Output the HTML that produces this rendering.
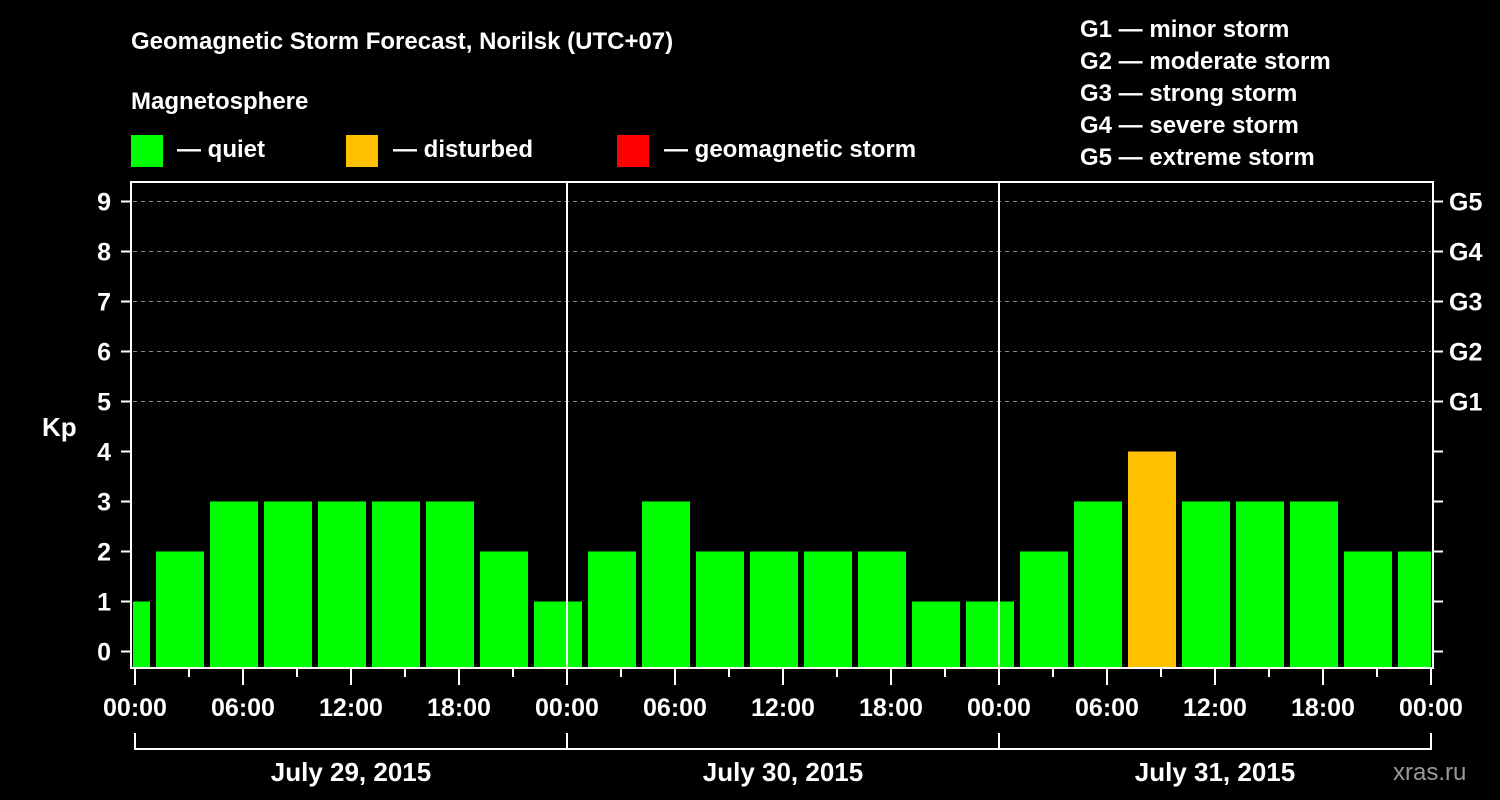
<!DOCTYPE html>
<html><head><meta charset="utf-8"><style>
html,body{margin:0;padding:0;background:#000;}
svg{display:block;font-family:"Liberation Sans",Arial,sans-serif;font-weight:bold;}
</style></head><body>
<svg id="c" width="1500" height="800" viewBox="0 0 1500 800">
<rect width="1500" height="800" fill="#000"/>
<text x="131" y="49" fill="#fff" font-size="24">Geomagnetic Storm Forecast, Norilsk (UTC+07)</text>
<text x="131" y="109" fill="#fff" font-size="24">Magnetosphere</text>
<g><rect x="131" y="135" width="32" height="32" fill="#00ff00"/><text x="177" y="157" fill="#fff" font-size="24">— quiet</text></g>
<g><rect x="346" y="135" width="32" height="32" fill="#ffc000"/><text x="393" y="157" fill="#fff" font-size="24">— disturbed</text></g>
<g><rect x="617" y="135" width="32" height="32" fill="#ff0000"/><text x="664" y="157" fill="#fff" font-size="24">— geomagnetic storm</text></g>
<g fill="#fff" font-size="24">
<text x="1080" y="37">G1 — minor storm</text>
<text x="1080" y="69">G2 — moderate storm</text>
<text x="1080" y="101">G3 — strong storm</text>
<text x="1080" y="133">G4 — severe storm</text>
<text x="1080" y="165">G5 — extreme storm</text>
</g>
<text x="42" y="436" fill="#fff" font-size="26">Kp</text>
<text x="1393" y="780" fill="#999" font-size="24" font-weight="normal">xras.ru</text>
<defs><clipPath id="pc"><rect x="133" y="183" width="1298" height="485"/></clipPath></defs>
<g id="grid"></g>
<g id="bars" clip-path="url(#pc)"></g>
<g id="axes"></g>
</svg>
<script>
const kpValues=[1,2,3,3,3,3,3,2,1,2,3,2,2,2,2,1,1,2,3,4,3,3,3,2,2];
const barStartHour=-2;
const barHours=3;
const yTicks=[0,1,2,3,4,5,6,7,8,9];
const gLabels=["G1","G2","G3","G4","G5"];
const gLevels=[5,6,7,8,9];
const xTickLabels=["00:00","06:00","12:00","18:00","00:00","06:00","12:00","18:00","00:00","06:00","12:00","18:00","00:00"];
const dayLabels=["July 29, 2015","July 30, 2015","July 31, 2015"];
const NS='http://www.w3.org/2000/svg';
const X=h=>135+h*18;
const Y=k=>651.5-k*50;
function mk(t,a,p){const e=document.createElementNS(NS,t);for(const k in a)e.setAttribute(k,a[k]);p.appendChild(e);return e;}
const grid=document.getElementById('grid'),bars=document.getElementById('bars'),axes=document.getElementById('axes');
gLevels.forEach(k=>{const l=mk('line',{x1:133,x2:1431,y1:Y(k),y2:Y(k),stroke:'#888','stroke-dasharray':'4,4','stroke-width':1},grid);

});
kpValues.forEach((v,i)=>{const h0=barStartHour+i*barHours;
const r=mk('rect',{x:X(h0)+3,width:barHours*18-6,y:Y(v),height:668-Y(v),fill:v>=5?'#ff0000':(v>=4?'#ffc000':'#00ff00')},bars);

});
const frame=mk('rect',{x:131,y:182,width:1302,height:486,fill:'none',stroke:'#fff','stroke-width':2},axes);


[1,2].forEach(d=>{const l=mk('line',{x1:X(d*24),x2:X(d*24),y1:182,y2:668,stroke:'#fff','stroke-width':2},axes);

});
yTicks.forEach(k=>{mk('line',{x1:121,x2:131,y1:Y(k),y2:Y(k),stroke:'#fff','stroke-width':2},axes);
mk('line',{x1:1433,x2:1443,y1:Y(k),y2:Y(k),stroke:'#fff','stroke-width':2},axes);
const t=mk('text',{x:111,y:Y(k)+9,'text-anchor':'end',fill:'#fff','font-size':25},axes);t.textContent=k;

});
gLabels.forEach((g,i)=>{const t=mk('text',{x:1449,y:Y(gLevels[i])+9,fill:'#fff','font-size':25},axes);t.textContent=g;

});
for(let h=0;h<=72;h+=3){mk('line',{x1:X(h),x2:X(h),y1:669,y2:h%6==0?685:677,stroke:'#fff','stroke-width':2},axes);}
xTickLabels.forEach((s,i)=>{const t=mk('text',{x:X(i*6),y:716,'text-anchor':'middle',fill:'#fff','font-size':25},axes);t.textContent=s;

});
mk('line',{x1:X(0),x2:X(72),y1:749,y2:749,stroke:'#fff','stroke-width':2},axes);
for(let d=0;d<=3;d++)mk('line',{x1:X(d*24),x2:X(d*24),y1:733,y2:750,stroke:'#fff','stroke-width':2},axes);
dayLabels.forEach((s,i)=>{const t=mk('text',{x:X(i*24+12),y:781,'text-anchor':'middle',fill:'#fff','font-size':26},axes);t.textContent=s;

});
</script>
</body></html>
